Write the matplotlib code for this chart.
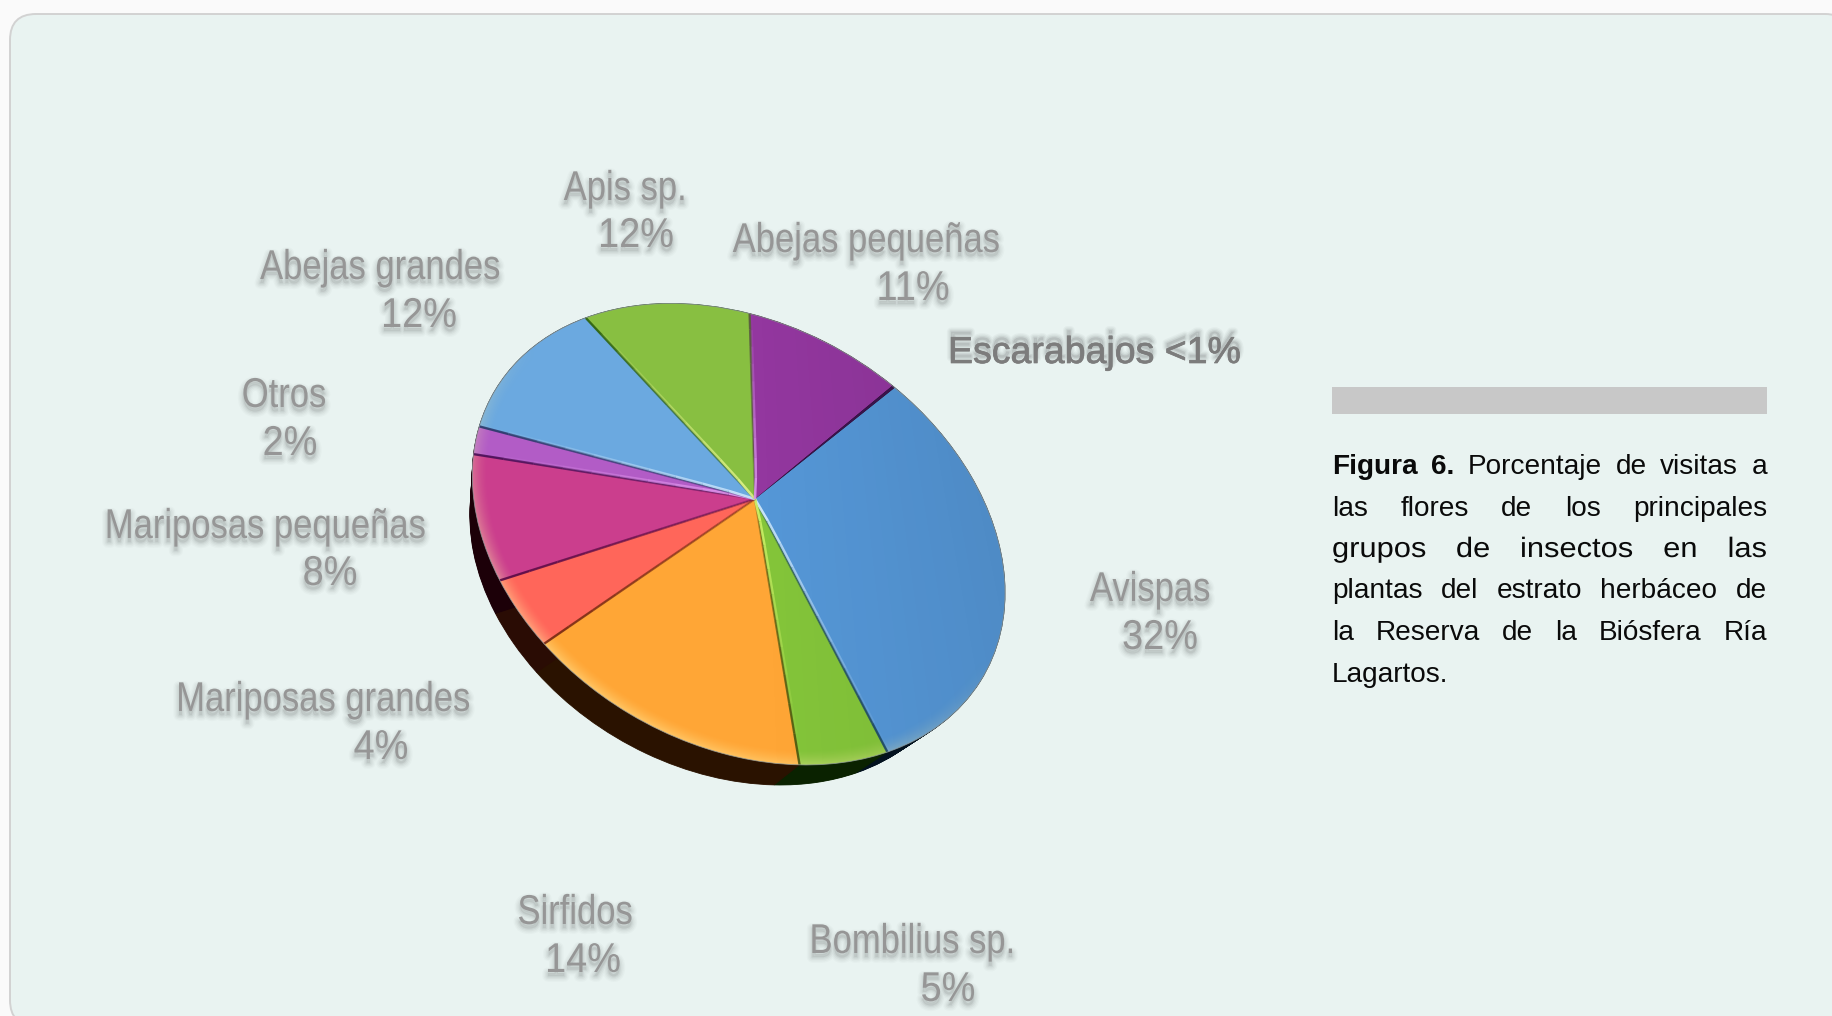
import numpy as np
import matplotlib
matplotlib.use("Agg")
import matplotlib.pyplot as plt
import matplotlib.patheffects as pe
from matplotlib.patches import FancyBboxPatch, Rectangle, Wedge
from matplotlib.transforms import Transform, Affine2D

# Visits per insect group, in the clockwise order of the pie (percent)
categories = ["Avispas", "Bombilius sp.", "Sirfidos", "Mariposas grandes",
              "Mariposas pequeñas", "Otros", "Abejas grandes", "Apis sp.",
              "Abejas pequeñas", "Escarabajos"]
values = [32, 5, 14, 4, 8, 2, 12, 12, 11, 0.2]
value_labels = ["32%", "5%", "14%", "4%", "8%", "2%", "12%", "12%", "11%", "<1%"]
face_colors = ["#5597d7", "#84c53a", "#ffa636", "#ff665a", "#cb3e8d",
               "#b25cc6", "#6ba9e0", "#88bf41", "#93379f", "#3c1450"]
side_colors = ["#03121f", "#0a2200", "#2a1200", "#2a0c04", "#1c0008",
               "#1c0008", "#03121f", "#0a2200", "#1c0008", "#1c0008"]

# Seams between a slice and the next one: highlight tint, its side, dark tint
seam_styles = [
    ("#d8efff", 1, "#1f4a66"), ("#d4f56a", 1, "#4c5a10"), (None, 1, "#7a2c14"),
    (None, 1, "#5c0c48"), ("#e59af0", -1, "#4c1058"), ("#cfe9ff", -1, "#2c3a6c"),
    ("#e2f58a", -1, "#2f6410"), ("#dc96ee", -1, "#5a5a40"),
]

# Label anchor points: (name x, name y, value x, value y) in pixels
label_places = [
    (1150, 590, 1160, 638), (912, 942, 948, 990), (575, 913, 583, 961),
    (323, 700, 381, 748), (265, 527, 330, 574), (284, 396, 290, 444),
    (380, 268, 419, 316), (625, 189, 636, 236), (866, 241, 913, 289),
]

caption_bold = "Figura 6."
caption_lines = ["Porcentaje de visitas a",
                 "las flores de los principales",
                 "grupos de insectos en las",
                 "plantas del estrato herbáceo de",
                 "la Reserva de la Biósfera Ría",
                 "Lagartos."]

W, H = 1833, 1016
APEX = np.array([755.0, 499.0])
TILT = np.deg2rad(30)
E_U = np.array([np.cos(TILT), np.sin(TILT)])
E_V = np.array([np.sin(TILT), -np.cos(TILT)])
K, KQ, P, Q = 278.0, 203.0, 0.184, -0.012
START = 74
# The far face of the disk is a little smaller and sits down and to the left
RIM_CENTRE = np.array([737.6, 534.0])
SIDE_SHIFT = np.array([-21.0, 36.2])
SIDE_SCALE = 0.93


class DiskProjection(Transform):
    """Perspective view of the unit disk, into pixel coordinates."""
    input_dims = output_dims = 2
    is_separable = False
    has_inverse = False

    def transform_non_affine(self, xy):
        xy = np.asarray(xy, float)
        d = 1 + P * xy[:, 1] + Q * xy[:, 0]
        a = (K * xy[:, 0] / d)[:, None]
        b = (KQ * xy[:, 1] / d)[:, None]
        return APEX + a * E_U + b * E_V


class Stretched(pe.AbstractPathEffect):
    """Draw a text's outline through another effect, scaled sideways from its left end."""

    def __init__(self, factor, inner):
        super().__init__()
        self.factor = factor
        self.inner = inner

    def draw_path(self, renderer, gc, tpath, affine, rgbFace=None):
        self.inner.draw_path(renderer, gc, tpath,
                             Affine2D().scale(self.factor, 1) + affine, rgbFace)


def disk_coords(x, y):
    """Screen pixels back to unit-disk coordinates."""
    dx, dy = x - APEX[0], y - APEX[1]
    a = (dx * E_U[0] + dy * E_U[1]) / K
    b = (dx * E_V[0] + dy * E_V[1]) / KQ
    d = 1 / (1 - P * b - Q * a)
    return a * d, b * d


plt.rcParams["font.family"] = ["Liberation Sans", "DejaVu Sans"]
fig = plt.figure(figsize=(W / 100, H / 100), dpi=100, facecolor="#fafafa")
ax = fig.add_axes([0, 0, 1, 1])

proj = DiskProjection() + ax.transData

wedges, _ = ax.pie(values, colors=face_colors, startangle=START, counterclock=False,
                   radius=1, wedgeprops=dict(linewidth=0, zorder=3))
ax.set_aspect("auto")
ax.set_xlim(0, W)
ax.set_ylim(H, 0)
ax.axis("off")

panel = FancyBboxPatch((10, 14), 1841, 1012, boxstyle="round,pad=0,rounding_size=26",
                       fc="#e9f3f1", ec="#d2d2d2", lw=1.4, zorder=0)
ax.add_patch(panel)

for w in wedges:
    w.set_transform(proj)
    w.set_clip_on(False)

# Dark side of the disk, swept from the top face down to the far face
for w, col in zip(wedges, side_colors):
    for t in np.linspace(0, 1, 30):
        scale = 1 - (1 - SIDE_SCALE) * t
        sweep = (Affine2D().translate(*-RIM_CENTRE).scale(scale)
                 .translate(*(RIM_CENTRE + SIDE_SHIFT * t)))
        s = Wedge((0, 0), 1, w.theta1, w.theta2, fc=col, ec=col, lw=0.6, zorder=2)
        s.set_transform(DiskProjection() + sweep + ax.transData)
        ax.add_patch(s)

# Soft light over the face: brighter towards the lower rim, a little darker to the right
yy, xx = np.mgrid[0:H, 0:W]
u, v = disk_coords(xx + 0.5, yy + 0.5)
r = np.hypot(u, v)
rim = np.clip((r - 0.95) / 0.05, 0, 1) ** 1.5
low_side = np.clip(-(v * 0.95 + u * 0.1), 0, 1)
glow = np.zeros((H, W, 4))
glow[..., :3] = [1.0, 0.95, 0.65]
glow[..., 3] = 0.45 * rim * low_side
img = ax.imshow(glow, extent=(0, W, H, 0), zorder=4, interpolation="bilinear", aspect="auto")
shade = np.zeros((H, W, 4))
shade[..., 3] = 0.08 * np.clip(u * 0.9 + v * 0.4, 0, 1)
img2 = ax.imshow(shade, extent=(0, W, H, 0), zorder=4, interpolation="bilinear", aspect="auto")
ax.set_xlim(0, W)
ax.set_ylim(H, 0)
disk = Wedge((0, 0), 1, 0, 360, fc="none", ec="#8f9a9c", lw=0.6, alpha=0.8, zorder=6)
disk.set_transform(proj)
disk.set_clip_on(False)
ax.add_patch(disk)
for im in (img, img2):
    im.set_clip_path(disk)

# Bevelled seams: highlights fade towards the rim, dark lines strengthen towards it
steps = np.linspace(0, 1, 11)
for w, (light, side, dark) in zip(wedges, seam_styles):
    ang = np.deg2rad(w.theta1)
    for t0, t1 in zip(steps[:-1], steps[1:]):
        mid = (t0 + t1) / 2
        ax.plot([t0 * np.cos(ang), t1 * np.cos(ang)], [t0 * np.sin(ang), t1 * np.sin(ang)],
                color=dark, alpha=0.4 + 0.55 * mid, lw=1.7, solid_capstyle="butt",
                transform=proj, zorder=5, clip_on=False)
        if light is not None:
            # Constant screen offset from the seam, so the highlight keeps its width
            nudge = np.array([-np.sin(ang), np.cos(ang)]) * side * 0.007
            p0 = t0 * np.array([np.cos(ang), np.sin(ang)]) + nudge * min(t0 * 8, 1)
            p1 = t1 * np.array([np.cos(ang), np.sin(ang)]) + nudge * min(t1 * 8, 1)
            ax.plot([p0[0], p1[0]], [p0[1], p1[1]], color=light,
                    alpha=0.95 * (1 - mid) ** 1.2, lw=1.8, solid_capstyle="butt",
                    transform=proj, zorder=5, clip_on=False)


def shadow(dx, dy, factor):
    layers = [pe.Stroke(linewidth=lw, foreground="#5f6566", alpha=a, offset=(dx, dy))
              for lw, a in ((8, 0.03), (6, 0.045), (4, 0.06), (2, 0.08))]
    return [Stretched(factor, e) for e in layers + [pe.Normal()]]


fig.canvas.draw()
renderer = fig.canvas.get_renderer()


def squeezed_label(text, cx, cy, factor):
    """Grey label centred on (cx, cy), condensed sideways, with a soft shadow below."""
    t = ax.text(cx, cy, text, ha="left", va="center", fontsize=30, color="#969696",
                path_effects=[], zorder=7)
    wd = t.get_window_extent(renderer).width
    t.set_x(cx - factor * wd / 2)
    t.set_path_effects(shadow(0, -3, factor))


for name, val, (nx, ny, vx, vy) in zip(categories, value_labels, label_places):
    squeezed_label(name, nx, ny, 0.83)
    squeezed_label(val, vx, vy, 0.91)

escarabajos_effects = [pe.Stroke(linewidth=lw, foreground="#5f6566", alpha=a, offset=(0, 4))
                       for lw, a in ((6, 0.05), (4, 0.07), (2, 0.10))]
escarabajos_effects += [pe.Stroke(linewidth=0.5, foreground="#7c7c7c"), pe.Normal()]
ax.text(948, 349, f"{categories[-1]} {value_labels[-1]}", ha="left", va="center_baseline",
        fontsize=27, color="#7c7c7c", path_effects=escarabajos_effects, zorder=7)

# Caption block with a justified paragraph
ax.add_patch(Rectangle((1332.5, 387), 434.5, 27, fc="#c8c8c8", ec="none", zorder=1))

LEFT, RIGHT = 1332, 1767
BASE, PITCH = 474.0, 41.5
LINE_STRETCH = [1.0, 1.0, 1.1, 1.0, 1.0, 1.0]


def place_words(words, y, justify, stretch):
    """Put (word, weight) pairs on one baseline, sharing the spare width between the gaps."""
    items = [ax.text(0, y, t, fontsize=20.2, fontweight=wt, color="#0a0a0a",
                     ha="left", va="baseline", zorder=7) for t, wt in words]
    widths = [i.get_window_extent(renderer).width * stretch for i in items]
    gap = (RIGHT - LEFT - sum(widths)) / max(len(items) - 1, 1) if justify else 7.8
    x = LEFT
    for item, wd in zip(items, widths):
        item.set_x(x)
        if stretch != 1.0:
            item.set_path_effects([Stretched(stretch, pe.Normal())])
        x += wd + gap


for n, line in enumerate(caption_lines):
    words = [(t, "normal") for t in line.split()]
    if n == 0:
        words = [(t, "bold") for t in caption_bold.split()] + words
    place_words(words, BASE + n * PITCH, n < len(caption_lines) - 1, LINE_STRETCH[n])

fig.savefig("out.png", dpi=100, facecolor=fig.get_facecolor())
